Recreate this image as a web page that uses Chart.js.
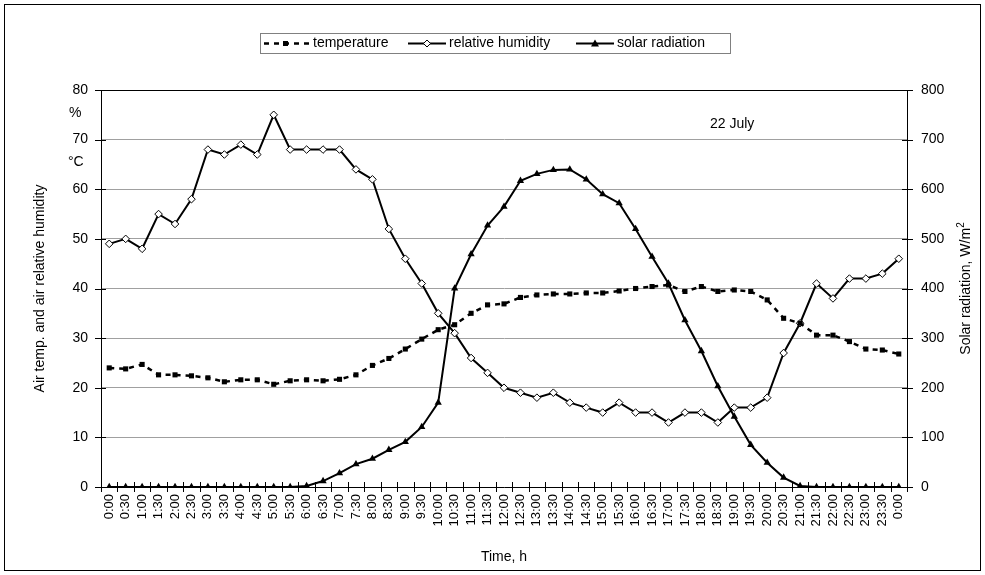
<!DOCTYPE html>
<html>
<head>
<meta charset="utf-8">
<script src="https://cdn.jsdelivr.net/npm/chart.js@4.4.1/dist/chart.umd.min.js"></script>
<style>
  html, body { margin:0; padding:0; background:#fff; }
  #wrap { width:985px; height:575px; position:relative; }
</style>
</head>
<body>
<div id="wrap"><canvas id="myChart" width="985" height="575"></canvas></div>
<script>
// time of day, every half hour
var times = ['0:00','0:30','1:00','1:30','2:00','2:30','3:00','3:30','4:00','4:30','5:00','5:30',
  '6:00','6:30','7:00','7:30','8:00','8:30','9:00','9:30','10:00','10:30','11:00','11:30',
  '12:00','12:30','13:00','13:30','14:00','14:30','15:00','15:30','16:00','16:30','17:00','17:30',
  '18:00','18:30','19:00','19:30','20:00','20:30','21:00','21:30','22:00','22:30','23:00','23:30','0:00'];

// air temperature, °C
var temperature = [24.0,23.8,24.7,22.6,22.6,22.4,22.0,21.2,21.6,21.6,20.7,21.4,
  21.6,21.4,21.7,22.6,24.5,25.9,27.8,29.8,31.7,32.7,35.0,36.7,
  36.9,38.2,38.7,38.9,38.9,39.1,39.1,39.5,40.0,40.4,40.7,39.4,
  40.4,39.4,39.7,39.4,37.7,34.0,33.0,30.6,30.6,29.3,27.8,27.6,26.8];

// relative humidity, %
var humidity = [49,50,48,55,53,58,68,67,69,67,75,68,
  68,68,68,64,62,52,46,41,35,31,26,23,
  20,19,18,19,17,16,15,17,15,15,13,15,
  15,13,16,16,18,27,33,41,38,42,42,43,46];

// solar radiation, W/m2
var solar = [0,0,0,0,0,0,0,0,0,0,0,0,
  2,12,28,46,57,75,91,121,170,400,469,527,
  565,617,631,639,640,620,590,572,520,464,410,336,
  274,203,142,85,49,19,2,0,0,0,0,0,0];

var leftTicks = [0,10,20,30,40,50,60,70,80];
var rightTicks = [0,100,200,300,400,500,600,700,800];

var FONT = "'Liberation Sans', Arial, sans-serif";

function line(ctx, x1, y1, x2, y2) {
  ctx.beginPath(); ctx.moveTo(x1, y1); ctx.lineTo(x2, y2); ctx.stroke();
}

var extras = {
  id: 'extras',
  afterDraw: function(chart) {
    var ctx = chart.ctx, a = chart.chartArea;
    var yl = chart.scales.y, yr = chart.scales.y2;
    ctx.save();
    ctx.strokeStyle = '#000';
    ctx.lineWidth = 1;
    // top edge of plot area
    line(ctx, a.left, Math.round(a.top) + 0.5, a.right, Math.round(a.top) + 0.5);
    // crossing tick marks
    leftTicks.forEach(function(v) {
      var y = Math.round(yl.getPixelForValue(v)) + 0.5;
      line(ctx, a.left - 6, y, a.left + 5, y);
    });
    rightTicks.forEach(function(v) {
      var y = Math.round(yr.getPixelForValue(v)) + 0.5;
      line(ctx, a.right - 5, y, a.right + 6, y);
    });
    var n = times.length, w = (a.right - a.left) / n;
    for (var i = 0; i <= n; i++) {
      var x = Math.round(a.left + i * w) + 0.5;
      line(ctx, x, a.bottom - 5, x, a.bottom + 5);
    }

    // unit labels and date
    ctx.fillStyle = '#000';
    ctx.font = '14px ' + FONT;
    ctx.textBaseline = 'middle';
    ctx.textAlign = 'left';
    ctx.fillText('%', 69, 113);
    ctx.fillText('°C', 68, 162);
    ctx.fillText('22 July', 710, 124);

    // right axis title, reads bottom to top, with superscript 2
    ctx.save();
    ctx.translate(966, (a.top + a.bottom) / 2);
    ctx.rotate(-Math.PI / 2);
    var main = 'Solar radiation, W/m';
    var mw = ctx.measureText(main).width;
    ctx.font = '10px ' + FONT;
    var sw = ctx.measureText('2').width;
    var x0 = -(mw + sw) / 2;
    ctx.font = '14px ' + FONT;
    ctx.fillText(main, x0, 0);
    ctx.font = '10px ' + FONT;
    ctx.fillText('2', x0 + mw, -5);
    ctx.restore();
    ctx.font = '14px ' + FONT;

    // legend
    ctx.strokeStyle = '#808080';
    ctx.strokeRect(260.5, 33.5, 470, 20);
    var ly = 43.5;
    ctx.strokeStyle = '#000';
    // temperature sample
    ctx.lineWidth = 2.5;
    ctx.setLineDash([5, 5]);
    line(ctx, 264, ly, 310, ly);
    ctx.setLineDash([]);
    ctx.fillRect(283, ly - 2.5, 5, 5);
    // humidity sample
    ctx.lineWidth = 2;
    line(ctx, 408, ly, 446, ly);
    ctx.fillStyle = '#fff';
    ctx.beginPath();
    ctx.moveTo(427, ly - 3.5); ctx.lineTo(430.5, ly); ctx.lineTo(427, ly + 3.5); ctx.lineTo(423.5, ly); ctx.closePath();
    ctx.fill();
    ctx.lineWidth = 1;
    ctx.stroke();
    // solar sample
    ctx.lineWidth = 2;
    line(ctx, 576, ly, 614, ly);
    ctx.fillStyle = '#000';
    ctx.beginPath();
    ctx.moveTo(595, ly - 4); ctx.lineTo(599, ly + 3); ctx.lineTo(591, ly + 3); ctx.closePath();
    ctx.fill();
    ctx.fillText('temperature', 313, ly);
    ctx.fillText('relative humidity', 449, ly);
    ctx.fillText('solar radiation', 617, ly);

    // outer frame
    ctx.lineWidth = 1;
    ctx.strokeStyle = '#000';
    ctx.strokeRect(4.5, 4.5, 976, 566);
    ctx.restore();
  }
};

var myChart = document.getElementById('myChart').getContext('2d');
var chart = new Chart(myChart, {
  type: 'line',
  data: {
    labels: times,
    datasets: [{
      label: 'temperature',
      data: temperature,
      yAxisID: 'y',
      borderColor: '#000',
      backgroundColor: '#000',
      borderWidth: 2.5,
      borderDash: [5, 5],
      pointStyle: 'rect',
      pointRadius: 3.6,
      pointBorderWidth: 0,
      pointBackgroundColor: '#000',
      tension: 0
    }, {
      label: 'relative humidity',
      data: humidity,
      yAxisID: 'y',
      borderColor: '#000',
      borderWidth: 2,
      pointStyle: 'rectRot',
      pointRadius: 3.8,
      pointBorderWidth: 1,
      pointBorderColor: '#000',
      pointBackgroundColor: '#fff',
      tension: 0
    }, {
      label: 'solar radiation',
      data: solar,
      yAxisID: 'y2',
      borderColor: '#000',
      borderWidth: 2,
      pointStyle: 'triangle',
      pointRadius: 4.2,
      pointBorderWidth: 0,
      pointBackgroundColor: '#000',
      tension: 0
    }]
  },
  options: {
    responsive: false,
    animation: false,
    layout: { padding: { left: 28, right: 8, top: 90, bottom: 5 } },
    plugins: { legend: { display: false }, tooltip: { enabled: false } },
    scales: {
      x: {
        offset: true,
        grid: { display: false, drawTicks: false },
        border: { display: true, color: '#000', width: 1 },
        ticks: {
          autoSkip: false, maxRotation: 90, minRotation: 90, padding: 7,
          color: '#000', font: { family: FONT, size: 13 }
        },
        title: { display: true, text: 'Time, h', color: '#000', font: { family: FONT, size: 14 }, padding: 4 },
        afterFit: function(s) { s.height = 83; }
      },
      y: {
        position: 'left',
        min: 0, max: 80,
        ticks: { stepSize: 10, padding: 13, color: '#000', font: { family: FONT, size: 14 } },
        grid: { color: '#a0a0a0', drawTicks: false },
        border: { display: true, color: '#000', width: 1 },
        title: { display: true, text: 'Air temp. and air relative humidity', color: '#000', font: { family: FONT, size: 14 }, padding: 4 },
        afterFit: function(s) { s.width = 73; }
      },
      y2: {
        position: 'right',
        min: 0, max: 800,
        ticks: { stepSize: 100, padding: 14, color: '#000', font: { family: FONT, size: 14 } },
        grid: { display: false, drawTicks: false },
        border: { display: true, color: '#000', width: 1 },
        title: { display: false },
        afterFit: function(s) { s.width = 70; }
      }
    }
  },
  plugins: [extras]
});
</script>
</body>
</html>
